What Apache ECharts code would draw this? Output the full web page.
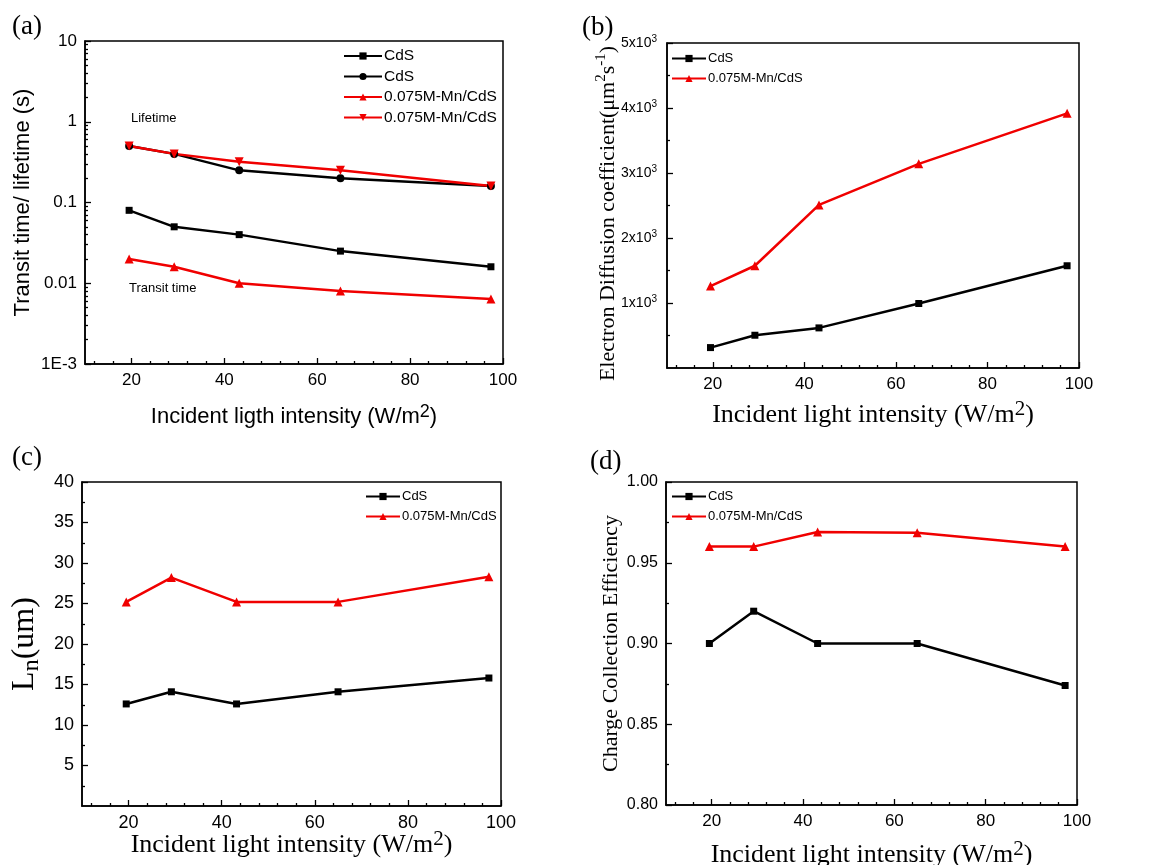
<!DOCTYPE html>
<html><head><meta charset="utf-8">
<script src="https://cdn.jsdelivr.net/npm/echarts@6/dist/echarts.min.js"></script>
<style>html,body{margin:0;padding:0;background:#fff}#c{width:1161px;height:865px}</style>
</head><body><div id="c"></div>
<script>
// ---------- data ----------
const intensity = [19.5, 29.2, 43.2, 65.0, 97.4];
// (a) transit time / lifetime (s)
const transitCdS   = [0.08, 0.05, 0.04, 0.025, 0.016];
const lifetimeCdS  = [0.5, 0.4, 0.25, 0.2, 0.16];
const transitMn    = [0.02, 0.016, 0.01, 0.008, 0.0064];
const lifetimeMn   = [0.5, 0.4, 0.32, 0.25, 0.16];
// (b) electron diffusion coefficient (um^2 s^-1)
const diffCdS = [314, 504, 617, 992, 1573];
const diffMn  = [1260, 1573, 2509, 3141, 3918];
// (c) Ln (um)
const lnCdS = [12.6, 14.1, 12.6, 14.1, 15.8];
const lnMn  = [25.2, 28.2, 25.2, 25.2, 28.3];
// (d) charge collection efficiency
const cceCdS = [0.900, 0.920, 0.900, 0.900, 0.874];
const cceMn  = [0.960, 0.960, 0.969, 0.9686, 0.960];
// tick labels
const xTicks = [20, 40, 60, 80, 100];
const logTicks = [0.001, 0.01, 0.1, 1, 10];
const logTickLabels = ['1E-3', '0.01', '0.1', '1', '10'];
const diffTicks = [1000, 2000, 3000, 4000, 5000];
const lnTicks = [5, 10, 15, 20, 25, 30, 35, 40];
const cceTicks = [0.80, 0.85, 0.90, 0.95, 1.00];
const legendLabels = {
  aCdS1: 'CdS', aCdS2: 'CdS', aMn1: '0.075M-Mn/CdS', aMn2: '0.075M-Mn/CdS',
  bCdS: 'CdS', bMn: '0.075M-Mn/CdS', cCdS: 'CdS', cMn: '0.075M-Mn/CdS',
  dCdS: 'CdS', dMn: '0.075M-Mn/CdS'
};

// ---------- helpers ----------
const SANS = "'Liberation Sans', Arial, sans-serif";
const SERIF = "'Liberation Serif', 'Times New Roman', serif";
const RED = '#f00000', BLACK = '#000000';

const xMinor = [];
for (let v = 12; v <= 100; v += 4) if (v % 20 !== 0) xMinor.push(v);
const logMinor = [];
for (let d = 0.001; d < 9; d *= 10) for (let k = 2; k <= 9; k++) logMinor.push(+(d * k).toPrecision(3));
const diffMinor = [500, 1500, 2500, 3500, 4500];
const lnMinor = [2.5, 7.5, 12.5, 17.5, 22.5, 27.5, 32.5, 37.5];
const cceMinor = [0.825, 0.875, 0.925, 0.975];

const grids = [
  {left: 85, top: 41, width: 418, height: 323},
  {left: 667, top: 43, width: 412, height: 325},
  {left: 82, top: 482, width: 419, height: 324},
  {left: 666, top: 482, width: 411, height: 323}
].map(g => Object.assign(g, {show: true, borderColor: '#000', borderWidth: 1.5, backgroundColor: 'transparent',
  containLabel: false, outerBoundsMode: 'none'}));

const line = {show: true, lineStyle: {color: '#000', width: 1.5}};

function xAxesFor(gi, nameText, nameFont, nameSize, supSize, gap, labelSize) {
  return [
    {type: 'value', gridIndex: gi, min: 10, max: 100, position: 'bottom',
     axisLine: line, splitLine: {show: false},
     axisTick: {show: true, inside: true, length: 6, customValues: xTicks, lineStyle: {color: '#000', width: 1.3}},
     axisLabel: {customValues: xTicks, color: '#000', fontFamily: SANS, fontSize: labelSize, margin: 8},
     name: '{t|' + nameText + '}{s|2}{t|)}', nameLocation: 'middle', nameGap: gap, nameMoveOverlap: false,
     nameTextStyle: {rich: {
       t: {fontFamily: nameFont, fontSize: nameSize, color: '#000', lineHeight: nameSize + 6},
       s: {fontFamily: nameFont, fontSize: supSize, color: '#000', lineHeight: supSize - 2, verticalAlign: 'top'}
     }}},
    {type: 'value', gridIndex: gi, min: 10, max: 100, position: 'bottom',
     axisLine: {show: false}, splitLine: {show: false}, axisLabel: {show: false},
     axisTick: {show: true, inside: true, length: 3, customValues: xMinor, lineStyle: {color: '#000', width: 1.3}}}
  ];
}

const xAxis = [].concat(
  xAxesFor(0, 'Incident ligth intensity (W/m', SANS, 22, 18, 39, 17),
  xAxesFor(1, 'Incident light intensity (W/m', SERIF, 26, 21, 31, 17),
  xAxesFor(2, 'Incident light intensity (W/m', SERIF, 26, 21, 23, 18),
  xAxesFor(3, 'Incident light intensity (W/m', SERIF, 26, 21, 34, 17)
);

function logLabel(v) {
  let best = 0, bd = 1e9;
  logTicks.forEach((t, i) => { const d = Math.abs(Math.log10(t) - Math.log10(v)); if (d < bd) { bd = d; best = i; } });
  return logTickLabels[best];
}

const tickStyle = {color: '#000', width: 1.3};
const yAxis = [
  // (a)
  {type: 'log', logBase: 10, gridIndex: 0, min: 0.001, max: 10, position: 'left',
   axisLine: line, splitLine: {show: false}, minorTick: {show: false},
   axisTick: {show: true, inside: true, length: 6, customValues: logTicks, lineStyle: tickStyle},
   axisLabel: {customValues: logTicks, formatter: logLabel, color: '#000', fontFamily: SANS, fontSize: 17, margin: 8},
   name: 'Transit time/ lifetime (s)', nameLocation: 'middle', nameGap: 51, nameMoveOverlap: false,
   nameTextStyle: {fontFamily: SANS, fontSize: 22, color: '#000'}},
  {type: 'log', logBase: 10, gridIndex: 0, min: 0.001, max: 10, position: 'left',
   axisLine: {show: false}, splitLine: {show: false}, axisLabel: {show: false},
   axisTick: {show: true, inside: true, length: 3, customValues: logMinor, lineStyle: tickStyle}},
  // (b)
  {type: 'value', gridIndex: 1, min: 0, max: 5000, position: 'left',
   axisLine: line, splitLine: {show: false},
   axisTick: {show: true, inside: true, length: 6, customValues: diffTicks, lineStyle: tickStyle},
   axisLabel: {customValues: diffTicks, margin: 10,
     formatter: v => '{a|' + (v / 1000) + 'x10}{s|3}',
     rich: {a: {fontFamily: SANS, fontSize: 14, color: '#000', lineHeight: 18},
            s: {fontFamily: SANS, fontSize: 10, color: '#000', lineHeight: 10, verticalAlign: 'top'}}},
   name: '{t|Electron Diffusion coefficient(μm}{s|2}{t|s}{s|-1}{t|)}', nameLocation: 'middle', nameGap: 45,
   nameMoveOverlap: false,
   nameTextStyle: {padding: [0, 16, 0, 0], rich: {
     t: {fontFamily: SERIF, fontSize: 22, color: '#000', lineHeight: 28},
     s: {fontFamily: SERIF, fontSize: 15, color: '#000', lineHeight: 13, verticalAlign: 'top'}}}},
  {type: 'value', gridIndex: 1, min: 0, max: 5000, position: 'left',
   axisLine: {show: false}, splitLine: {show: false}, axisLabel: {show: false},
   axisTick: {show: true, inside: true, length: 3, customValues: diffMinor, lineStyle: tickStyle}},
  // (c)
  {type: 'value', gridIndex: 2, min: 0, max: 40, position: 'left',
   axisLine: line, splitLine: {show: false},
   axisTick: {show: true, inside: true, length: 6, customValues: lnTicks, lineStyle: tickStyle},
   axisLabel: {customValues: lnTicks, color: '#000', fontFamily: SANS, fontSize: 18, margin: 8},
   name: '{t|L}{b|n}{t|(um)}', nameLocation: 'middle', nameGap: 38, nameMoveOverlap: false,
   nameTextStyle: {rich: {
     t: {fontFamily: SERIF, fontSize: 32, color: '#000', lineHeight: 38},
     b: {fontFamily: SERIF, fontSize: 24, color: '#000', lineHeight: 20, verticalAlign: 'bottom'}}}},
  {type: 'value', gridIndex: 2, min: 0, max: 40, position: 'left',
   axisLine: {show: false}, splitLine: {show: false}, axisLabel: {show: false},
   axisTick: {show: true, inside: true, length: 3, customValues: lnMinor, lineStyle: tickStyle}},
  // (d)
  {type: 'value', gridIndex: 3, min: 0.8, max: 1.0, position: 'left',
   axisLine: line, splitLine: {show: false},
   axisTick: {show: true, inside: true, length: 6, customValues: cceTicks, lineStyle: tickStyle},
   axisLabel: {customValues: cceTicks, formatter: v => v.toFixed(2), color: '#000', fontFamily: SANS, fontSize: 16, margin: 8},
   name: 'Charge Collection Efficiency', nameLocation: 'middle', nameGap: 44, nameMoveOverlap: false,
   nameTextStyle: {fontFamily: SERIF, fontSize: 22, color: '#000'}},
  {type: 'value', gridIndex: 3, min: 0.8, max: 1.0, position: 'left',
   axisLine: {show: false}, splitLine: {show: false}, axisLabel: {show: false},
   axisTick: {show: true, inside: true, length: 3, customValues: cceMinor, lineStyle: tickStyle}}
];

function pairs(ys) { return intensity.map((x, i) => [x, ys[i]]); }
function ser(name, gi, ys, color, symbol, size, rotate) {
  return {type: 'line', name: name, xAxisIndex: 2 * gi, yAxisIndex: 2 * gi, data: pairs(ys),
    symbol: symbol, symbolSize: size, symbolRotate: rotate || 0, showSymbol: true,
    lineStyle: {color: color, width: 2.5}, itemStyle: {color: color, borderWidth: 0},
    emphasis: {disabled: true}, z: 3};
}

const series = [
  ser('aCdS1', 0, transitCdS, BLACK, 'rect', 7),
  ser('aCdS2', 0, lifetimeCdS, BLACK, 'circle', 8),
  ser('aMn1', 0, transitMn, RED, 'triangle', 9),
  ser('aMn2', 0, lifetimeMn, RED, 'triangle', 9, 180),
  ser('bCdS', 1, diffCdS, BLACK, 'rect', 7),
  ser('bMn', 1, diffMn, RED, 'triangle', 9),
  ser('cCdS', 2, lnCdS, BLACK, 'rect', 7),
  ser('cMn', 2, lnMn, RED, 'triangle', 9),
  ser('dCdS', 3, cceCdS, BLACK, 'rect', 7),
  ser('dMn', 3, cceMn, RED, 'triangle', 9)
];

function leg(names, left, top, w, fs, gap) {
  return {data: names, left: left, top: top, orient: 'vertical', itemWidth: w, itemHeight: 9,
    itemGap: gap, selectedMode: false, padding: 0,
    formatter: n => legendLabels[n],
    textStyle: {fontFamily: SANS, fontSize: fs, color: '#000', padding: [0, 0, 0, -3]}};
}

const legend = [
  leg(['aCdS1', 'aCdS2', 'aMn1', 'aMn2'], 343, 48, 38, 15.5, 4.5),
  leg(['bCdS', 'bMn'], 671, 52, 34, 13, 7),
  leg(['cCdS', 'cMn'], 365, 490, 34, 13, 7),
  leg(['dCdS', 'dMn'], 671, 490, 34, 13, 7)
];

function txt(s, left, top, font, size) {
  return {type: 'text', left: left, top: top, style: {text: s, fontFamily: font, fontSize: size, fill: '#000'}};
}
const graphic = [
  txt('(a)', 12, 13, SERIF, 27),
  txt('(b)', 582, 14, SERIF, 27),
  txt('(c)', 12, 444, SERIF, 27),
  txt('(d)', 590, 448, SERIF, 27),
  txt('Lifetime', 131, 112, SANS, 13),
  txt('Transit time', 129, 282, SANS, 13)
];

const chart = echarts.init(document.getElementById('c'), null, {renderer: 'canvas'});
chart.setOption({animation: false, backgroundColor: '#fff', grid: grids, xAxis: xAxis, yAxis: yAxis,
  series: series, legend: legend, graphic: graphic, tooltip: {show: false}});
</script></body></html>
